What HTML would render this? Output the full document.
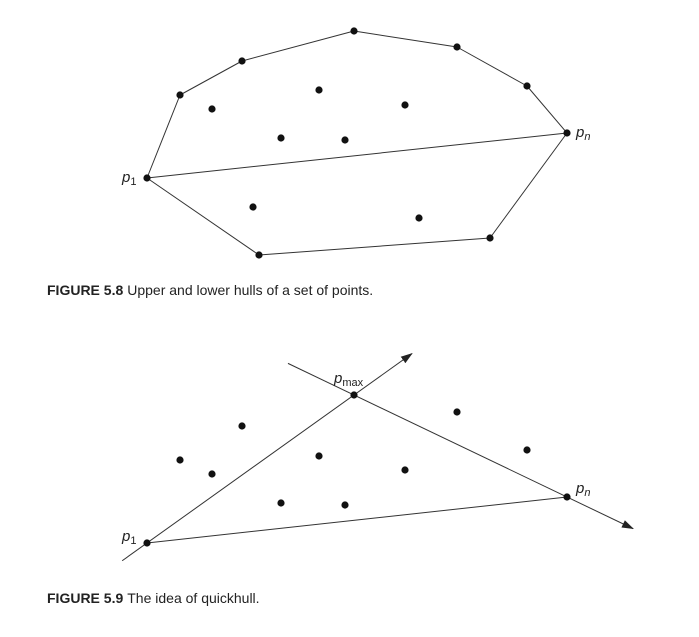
<!DOCTYPE html>
<html><head><meta charset="utf-8"><style>
body{margin:0;background:#fff;width:699px;height:632px;overflow:hidden}
svg text{font-family:"Liberation Sans",sans-serif;fill:#222}
</style></head><body>
<svg id="s" width="699" height="632">
<defs><marker id="ar" markerWidth="12" markerHeight="8" refX="11" refY="4" orient="auto" markerUnits="userSpaceOnUse"><path d="M0,0 L12,4 L0,8 Z" fill="#222"/></marker></defs>
<text x="47" y="295" font-size="14"><tspan font-weight="bold">FIGURE 5.8</tspan><tspan dx="4">Upper and lower hulls of a set of points.</tspan></text>
<text x="47" y="603" font-size="14"><tspan font-weight="bold">FIGURE 5.9</tspan><tspan dx="4">The idea of quickhull.</tspan></text>
</svg>
<script>
const hullX=[147,180,242,354,457,527,567,490,259];
const hullY=[178,95,61,31,47,86,133,238,255];
const inX8=[212,319,405,281,345,253,419];
const inY8=[109,90,105,138,140,207,218];
const ptsX9=[242,180,212,319,405,281,345,457,527];
const ptsY9=[426,460,474,456,470,503,505,412,450];
const keyX9=[147,354,567];
const keyY9=[543,395,497];
const s=document.getElementById('s');const NS='http://www.w3.org/2000/svg';
function mk(t,a){const e=document.createElementNS(NS,t);for(const k in a)e.setAttribute(k,a[k]);s.appendChild(e);return e;}
function line(x1,y1,x2,y2,name,arrow){const e=mk('line',{x1,y1,x2,y2,stroke:'#333','stroke-width':1});if(arrow)e.setAttribute('marker-end','url(#ar)');

}
function dot(x,y,name){const e=mk('circle',{cx:x,cy:y,r:3.6,fill:'#111'});

}
for(let i=0;i<hullX.length;i++){const j=(i+1)%hullX.length;line(hullX[i],hullY[i],hullX[j],hullY[j],'hull-edge');}
line(hullX[0],hullY[0],hullX[6],hullY[6],'p1-pn-line');
for(let i=0;i<hullX.length;i++)dot(hullX[i],hullY[i],'hull-point');
for(let i=0;i<inX8.length;i++)dot(inX8[i],inY8[i],'interior-point');
function ext(ax,ay,bx,by,t){return [ax+(bx-ax)*t,ay+(by-ay)*t];}
let a=ext(keyX9[0],keyY9[0],keyX9[1],keyY9[1],-0.12),b=ext(keyX9[0],keyY9[0],keyX9[1],keyY9[1],1.28);
line(a[0],a[1],b[0],b[1],'p1-pmax-arrow',true);
a=ext(keyX9[1],keyY9[1],keyX9[2],keyY9[2],-0.31);b=ext(keyX9[1],keyY9[1],keyX9[2],keyY9[2],1.31);
line(a[0],a[1],b[0],b[1],'pmax-pn-arrow',true);
line(keyX9[0],keyY9[0],keyX9[2],keyY9[2],'p1-pn-line-2');
for(let i=0;i<keyX9.length;i++)dot(keyX9[i],keyY9[i],'key-point');
for(let i=0;i<ptsX9.length;i++)dot(ptsX9[i],ptsY9[i],'point');
function lbl(x,y,main,sub,name,subItalic){const t=mk('text',{x,y,'font-size':15,'font-style':'italic'});t.textContent=main;
const ts=document.createElementNS(NS,'tspan');ts.setAttribute('font-size','11');ts.setAttribute('font-style',subItalic?'italic':'normal');ts.setAttribute('dy','3');ts.textContent=sub;t.appendChild(ts);

}
lbl(hullX[0]-25,hullY[0]+4,'p','1','label-p1',false);
lbl(hullX[6]+9,hullY[6]+4,'p','n','label-pn',true);
lbl(keyX9[0]-25,keyY9[0]-2,'p','1','label-p1-2',false);
lbl(keyX9[1]-20,keyY9[1]-12,'p','max','label-pmax',false);
lbl(keyX9[2]+9,keyY9[2]-4,'p','n','label-pn-2',true);
</script>
</body></html>
